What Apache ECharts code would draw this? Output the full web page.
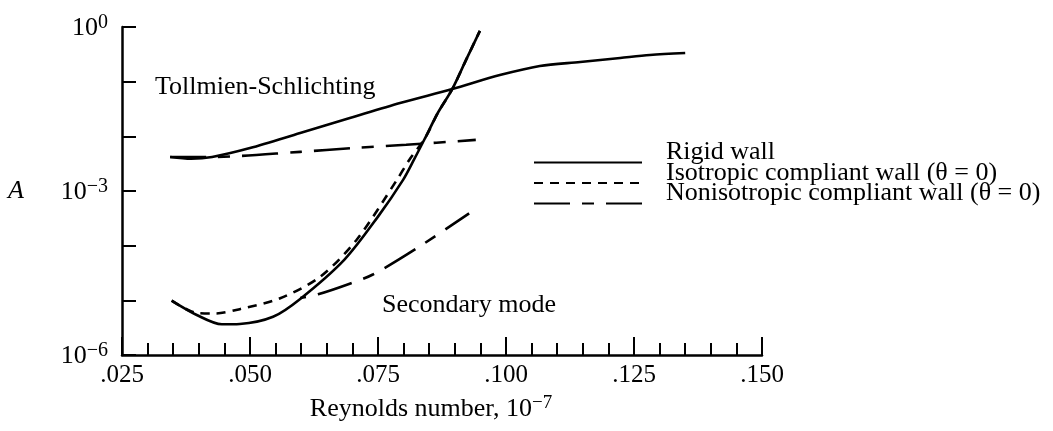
<!DOCTYPE html>
<html>
<head>
<meta charset="utf-8">
<script src="https://cdn.jsdelivr.net/npm/echarts@6/dist/echarts.min.js"></script>
<style>html,body{margin:0;padding:0;background:#fff}#c{width:1053px;height:431px}</style>
</head>
<body>
<div id="c"></div>
<script>
// ---- data ----
const seriesNames = ['Rigid wall', 'Isotropic compliant wall (\u03B8 = 0)', 'Nonisotropic compliant wall (\u03B8 = 0)'];

// Rigid wall, Tollmien-Schlichting branch
const rigidTS_x = [0.0344, 0.0385, 0.0426, 0.0500, 0.0598, 0.0695, 0.0793, 0.0895, 0.0988, 0.1066, 0.1145, 0.1223, 0.1281, 0.1350];
const rigidTS_y = [0.0042, 0.0039, 0.0042, 0.0061, 0.0115, 0.0216, 0.0407, 0.0734, 0.132, 0.194, 0.229, 0.271, 0.307, 0.334];
// Rigid wall, secondary mode
const rigidSec_x = [0.0347, 0.0396, 0.0445, 0.0480, 0.0545, 0.0598, 0.0684, 0.0750, 0.0799, 0.0820, 0.0842, 0.0867, 0.0895, 0.0922, 0.0949];
const rigidSec_y = [9.9e-6, 5.4e-6, 3.65e-6, 3.7e-6, 5.0e-6, 1.06e-5, 5.5e-5, 3.4e-4, 1.6e-3, 3.7e-3, 9.3e-3, 2.7e-2, 7.3e-2, 0.25, 0.85];
// Isotropic compliant wall, secondary mode
const isoSec_x = [0.0347, 0.0396, 0.0432, 0.0480, 0.0559, 0.0637, 0.0708, 0.0787, 0.0811, 0.0842, 0.0867, 0.0895, 0.0922, 0.0949];
const isoSec_y = [9.9e-6, 5.87e-6, 5.75e-6, 6.9e-6, 1.09e-5, 2.7e-5, 1.27e-4, 1.6e-3, 3.7e-3, 9.3e-3, 2.7e-2, 7.3e-2, 0.25, 0.85];
// Nonisotropic compliant wall, Tollmien-Schlichting branch
const nonTS_x = [0.0344, 0.0426, 0.0598, 0.0700, 0.0805, 0.0941];
const nonTS_y = [0.0042, 0.0042, 0.0052, 0.0061, 0.0070, 0.0086];
// Nonisotropic compliant wall, secondary mode
const nonSec_x = [0.0598, 0.0633, 0.0692, 0.0741, 0.0826, 0.0928];
const nonSec_y = [1.1e-5, 1.29e-5, 1.97e-5, 3.0e-5, 9.0e-5, 3.9e-4];

const xTickLabels = ['.025', '.050', '.075', '.100', '.125', '.150'];
const yLabelExps = [0, -3, -6];
const annotations = ['Tollmien-Schlichting', 'Secondary mode'];

// ---- chart ----
const FONT = '"Liberation Serif", "Times New Roman", serif';
const zip = (xs, ys) => xs.map((x, i) => [x, ys[i]]);
const dashStyles = ['solid', [9, 7], [36, 12, 12, 12]];

function mk(name, xs, ys, styleIdx, dashOffset) {
  return {
    type: 'line', name: name, data: zip(xs, ys), showSymbol: false, symbol: 'none',
    smooth: 0.3, silent: true, animation: false,
    lineStyle: { color: '#000', width: 2.6, type: dashStyles[styleIdx], dashOffset: dashOffset || 0, cap: 'butt' },
    itemStyle: { color: '#000' }
  };
}

const chart = echarts.init(document.getElementById('c'), null, { renderer: 'canvas' });
const yRich = {
  b: { fontFamily: FONT, fontSize: 26, color: '#000', lineHeight: 28, verticalAlign: 'bottom' },
  s: { fontFamily: FONT, fontSize: 20, color: '#000', lineHeight: 8, verticalAlign: 'top' }
};
const nameRich = {
  b: { fontFamily: FONT, fontSize: 26, color: '#000', lineHeight: 28, verticalAlign: 'bottom' },
  s: { fontFamily: FONT, fontSize: 19, color: '#000', lineHeight: 8, verticalAlign: 'top' }
};

chart.setOption({
  animation: false,
  backgroundColor: '#fff',
  grid: { left: 122, right: 291, top: 27, bottom: 76, containLabel: false, outerBoundsMode: 'none' },
  xAxis: {
    type: 'value', min: 0.025, max: 0.150, interval: 0.025,
    axisLine: { show: true, lineStyle: { color: '#000', width: 2.5 } },
    axisTick: { show: true, inside: true, length: 18, lineStyle: { color: '#000', width: 2 } },
    minorTick: { show: true, splitNumber: 5, length: 12, lineStyle: { color: '#000', width: 2 } },
    splitLine: { show: false },
    minorSplitLine: { show: false },
    axisLabel: {
      margin: 8, color: '#000', fontFamily: FONT, fontSize: 25,
      formatter: v => xTickLabels[Math.round((v - 0.025) / 0.025)]
    },
    name: '{b|Reynolds number, 10}{s|\u22127}',
    nameLocation: 'middle', nameGap: 39,
    nameTextStyle: { rich: nameRich, padding: [0, 22, 0, 0] }
  },
  yAxis: {
    type: 'log', logBase: 10, min: 1e-6, max: 1, splitNumber: 6,
    axisLine: { show: true, lineStyle: { color: '#000', width: 2.5 } },
    axisTick: { show: true, inside: true, length: 14, lineStyle: { color: '#000', width: 2 } },
    splitLine: { show: false },
    axisLabel: {
      margin: 14, color: '#000',
      formatter: v => {
        const e = Math.round(Math.log10(v));
        if (yLabelExps.indexOf(e) < 0) return '';
        return '{b|10}{s|' + (e < 0 ? '\u2212' + (-e) : e) + '}';
      },
      rich: yRich
    },
    name: 'A', nameLocation: 'middle', nameRotate: 0, nameGap: 98,
    nameTextStyle: { fontFamily: FONT, fontSize: 26, fontStyle: 'italic', color: '#000' }
  },
  legend: {
    orient: 'vertical', left: 533, top: 139.5, padding: 0,
    itemWidth: 108, itemHeight: 14, itemGap: -25.5,
    data: seriesNames,
    selectedMode: false,
    itemStyle: { opacity: 0, color: 'rgba(0,0,0,0)', borderWidth: 0 },
    formatter: name => '{t|' + name + '}',
    textStyle: {
      color: '#000',
      rich: { t: { fontFamily: FONT, fontSize: 26, color: '#000', lineHeight: 1, padding: [0, 0, 20, 19] } }
    }
  },
  graphic: [
    { type: 'text', left: 155, top: 74, style: { text: annotations[0], font: '26px ' + FONT, fill: '#000' } },
    { type: 'text', left: 382, top: 292, style: { text: annotations[1], font: '26px ' + FONT, fill: '#000' } }
  ],
  series: [
    mk(seriesNames[0], rigidTS_x, rigidTS_y, 0),
    mk(seriesNames[0], rigidSec_x, rigidSec_y, 0),
    mk(seriesNames[1], isoSec_x, isoSec_y, 1),
    mk(seriesNames[2], nonTS_x, nonTS_y, 2),
    mk(seriesNames[2], nonSec_x, nonSec_y, 2, 54)
  ]
});
</script>
</body>
</html>
